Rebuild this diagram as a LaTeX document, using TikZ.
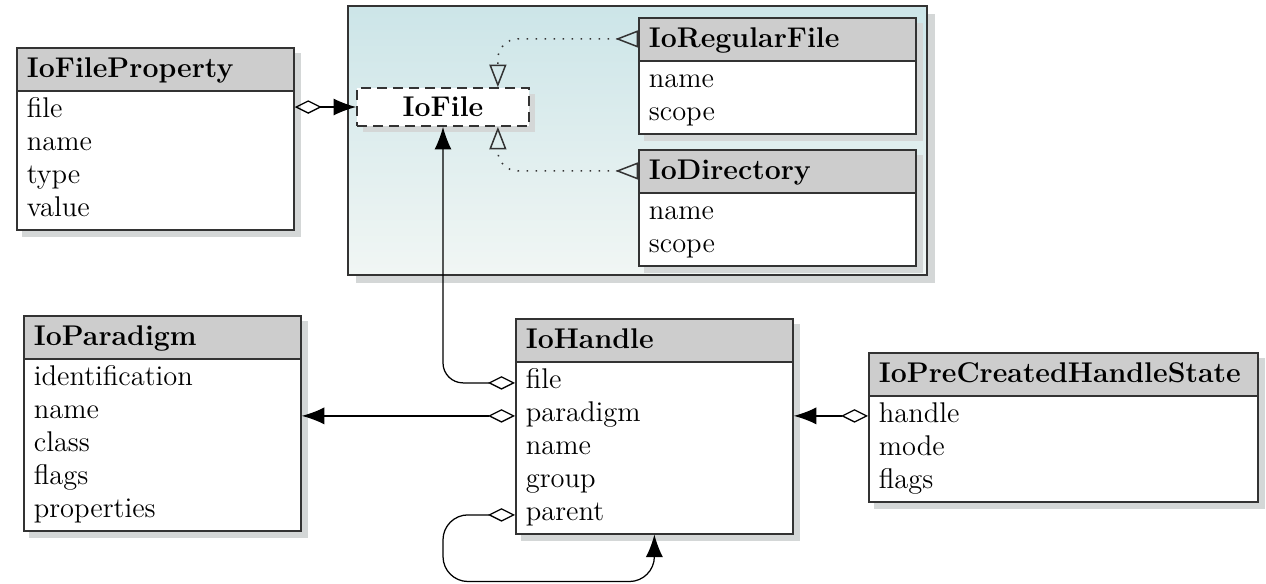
\documentclass[tikz,border=0pt]{standalone}
\usetikzlibrary{positioning, shapes.multipart, arrows.meta, calc, shadows}
\definecolor{umlhead}{HTML}{CDCDCD}
\definecolor{umlline}{HTML}{333333}
\definecolor{umlshadow}{HTML}{D4D7D7}
\definecolor{panetop}{HTML}{CCE5E8}
\definecolor{panebottom}{HTML}{F1F6F4}
\newcommand{\hstrut}{\rule[-4pt]{0pt}{14.5pt}}
\pgfdeclarelayer{back}
\pgfdeclarelayer{shade}
\pgfsetlayers{back,shade,main}

\begin{document}
\begin{tikzpicture}[x=0.4pt, y=-0.4pt, font=\fontsize{11.4}{13.2}\selectfont,
    boxshadow/.style={drop shadow={shadow xshift=2.4pt, shadow yshift=-2.4pt,
      fill=umlshadow, opacity=1}},
    umlclass/.style={draw=umlline, line width=0.7pt, rectangle split,
      rectangle split parts=2, rectangle split part fill={umlhead,white},
      text width=102.8pt, align=left, inner xsep=4pt, inner ysep=1pt,
      anchor=north west},
    assoc/.style={draw=black, line width=0.5pt,
      {Diamond[open,length=10.8pt,width=5.4pt]}-{Latex[length=9pt,width=6.8pt]}},
    realize/.style={draw=umlline, line width=0.6pt, dash pattern=on 0.6pt off 3pt,
      {Triangle[open,reversed,length=9pt,width=6.8pt]}-{Triangle[open,length=9pt,width=6.8pt]}}]
    \useasboundingbox (0,0) rectangle (1266,583);

    % file package
    \begin{pgfonlayer}{back}
    \node[draw=umlline, line width=0.8pt, top color=panetop, bottom color=panebottom,
          minimum width=231.6pt, minimum height=107.6pt, inner sep=0pt,
          anchor=north west, drop shadow={shadow xshift=3pt, shadow yshift=-3pt,
          fill=umlshadow, opacity=1}] (pane) at (347,5) {};
    \end{pgfonlayer}
    \node[draw=umlline, line width=0.7pt, dash pattern=on 4pt off 2.4pt, fill=white,
          minimum width=68.8pt, minimum height=15.2pt, inner sep=0pt, boxshadow]
          (iofile) at (443,107) {\textbf{IoFile}};
    \node[umlclass] (regfile) at (638,17)
          {\hstrut\textbf{IoRegularFile}\nodepart{two}\strut name\\\strut scope};
    \node[umlclass] (dir) at (638,149)
          {\hstrut\textbf{IoDirectory}\nodepart{two}\strut name\\\strut scope};

    % other classes
    \node[umlclass] (prop) at (16,47)
          {\hstrut\textbf{IoFileProperty}\nodepart{two}\strut file\\\strut name\\\strut type\\\strut value};
    \node[umlclass] (paradigm) at (23,315)
          {\hstrut\textbf{IoParadigm}\nodepart{two}\strut identification\\\strut name\\\strut class\\\strut flags\\\strut properties};
    \node[umlclass] (handle) at (515,318)
          {\hstrut\textbf{IoHandle}\nodepart{two}\strut file\\\strut paradigm\\\strut name\\\strut group\\\strut parent};
    \node[umlclass, text width=147.6pt] (precreated) at (868,352)
          {\hstrut\textbf{IoPreCreatedHandleState}\nodepart{two}\strut handle\\\strut mode\\\strut flags};

    % shadows of the classes
    \begin{pgfonlayer}{shade}
    \foreach \c in {regfile, dir, prop, paradigm, handle, precreated}
      \fill[umlshadow] ($(\c.north west)+(6,6)$) rectangle ($(\c.south east)+(6,6)$);
    \end{pgfonlayer}

    % generalisations
    \draw[realize, rounded corners=8] ($(regfile.north west)!0.5!(regfile.text split west)$)
          -| ($(iofile.north east)+(-32,0)$);
    \draw[realize, rounded corners=8] ($(dir.north west)!0.5!(dir.text split west)$)
          -| ($(iofile.south east)+(-32,0)$);

    % associations
    \draw[assoc] (prop.east |- iofile.west) -- (iofile.west);
    \draw[assoc, rounded corners=8] ($(handle.text split west)+(0,21)$) -| (iofile.south);
    \draw[assoc] ($(handle.text split west)+(0,54)$) -- ($(paradigm.text split east)+(0,57)$);
    \draw[assoc, rounded corners=10] ($(handle.text split west)+(0,153)$) -- ++(-72,0)
          |- ($(handle.south)+(0,47)$) -- (handle.south);
    \draw[assoc] ($(precreated.text split west)+(0,20)$) coordinate (hrow)
          -- (handle.east |- hrow);
\end{tikzpicture}
\end{document}
